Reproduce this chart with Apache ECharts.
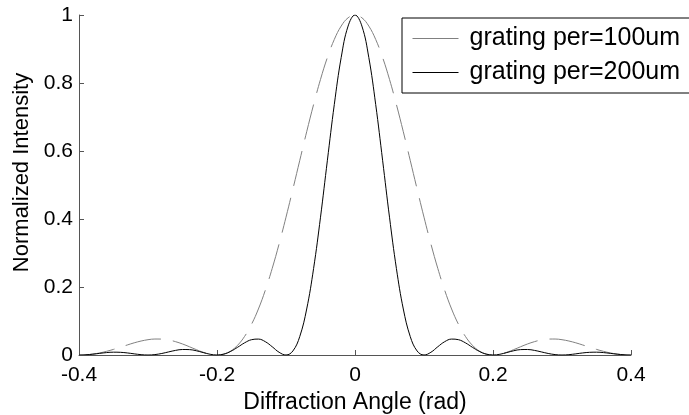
<!DOCTYPE html>
<html>
<head>
<meta charset="utf-8">
<script src="https://cdn.jsdelivr.net/npm/echarts@6/dist/echarts.min.js"></script>
<style>
html,body{margin:0;padding:0;background:#fff;}
#chart{width:689px;height:415px;}
</style>
</head>
<body>
<div id="chart"></div>
<script>
const angle = [-0.40,-0.39,-0.38,-0.37,-0.36,-0.35,-0.34,-0.33,-0.32,-0.31,
  -0.30,-0.29,-0.28,-0.27,-0.26,-0.25,-0.24,-0.23,-0.22,-0.21,
  -0.20,-0.19,-0.18,-0.17,-0.16,-0.15,-0.14,-0.13,-0.12,-0.11,
  -0.10,-0.09,-0.08,-0.07,-0.06,-0.05,-0.04,-0.03,-0.02,-0.01,
  0,
  0.01,0.02,0.03,0.04,0.05,0.06,0.07,0.08,0.09,0.10,
  0.11,0.12,0.13,0.14,0.15,0.16,0.17,0.18,0.19,0.20,
  0.21,0.22,0.23,0.24,0.25,0.26,0.27,0.28,0.29,0.30,
  0.31,0.32,0.33,0.34,0.35,0.36,0.37,0.38,0.39,0.40];

const intensity100 = [0,0.0007,0.0027,0.0061,0.0108,0.0165,0.0229,0.0295,0.0358,0.0411,
  0.0450,0.0470,0.0468,0.0441,0.0392,0.0324,0.0243,0.0158,0.0080,0.0022,
  0,0.0027,0.0119,0.0289,0.0547,0.0901,0.1353,0.1904,0.2546,0.3267,
  0.4053,0.4881,0.5728,0.6567,0.7368,0.8106,0.8751,0.9281,0.9675,0.9918,
  1,
  0.9918,0.9675,0.9281,0.8751,0.8106,0.7368,0.6567,0.5728,0.4881,0.4053,
  0.3267,0.2546,0.1904,0.1353,0.0901,0.0547,0.0289,0.0119,0.0027,0,
  0.0022,0.0080,0.0158,0.0243,0.0324,0.0392,0.0441,0.0468,0.0470,0.0450,
  0.0411,0.0358,0.0295,0.0229,0.0165,0.0108,0.0061,0.0027,0.0007,0];

const intensity200 = [0,0.0006,0.0024,0.0048,0.0071,0.0083,0.0079,0.0061,0.0034,0.0010,
  0,0.0012,0.0045,0.0091,0.0136,0.0162,0.0159,0.0125,0.0072,0.0022,
  0,0.0027,0.0108,0.0229,0.0358,0.0450,0.0468,0.0392,0.0243,0.0080,
  0,0.0119,0.0547,0.1353,0.2546,0.4053,0.5728,0.7368,0.8751,0.9675,
  1,
  0.9675,0.8751,0.7368,0.5728,0.4053,0.2546,0.1353,0.0547,0.0119,0,
  0.0080,0.0243,0.0392,0.0468,0.0450,0.0358,0.0229,0.0108,0.0027,0,
  0.0022,0.0072,0.0125,0.0159,0.0162,0.0136,0.0091,0.0045,0.0012,0,
  0.0010,0.0034,0.0061,0.0079,0.0083,0.0071,0.0048,0.0024,0.0006,0];

const seriesNames = ['grating per=100um', 'grating per=200um'];
const xTitle = 'Diffraction Angle (rad)';
const yTitle = 'Normalized Intensity';

const FONT = '"Liberation Sans", Arial, Helvetica, sans-serif';
const chart = echarts.init(document.getElementById('chart'), null, {renderer: 'canvas'});

function pairs(ys) { return angle.map((x, i) => [x, ys[i]]); }

chart.setOption({
  animation: false,
  backgroundColor: '#ffffff',
  grid: {left: 79, right: 58, top: 15, bottom: 60, containLabel: false, outerBoundsMode: 'none'},
  xAxis: {
    type: 'value', min: -0.4, max: 0.4, interval: 0.2,
    name: xTitle, nameLocation: 'middle', nameGap: 33,
    nameTextStyle: {fontFamily: FONT, fontSize: 23, color: '#000'},
    axisLine: {show: true, onZero: false, lineStyle: {color: '#555', width: 1}},
    axisTick: {show: true, inside: true, length: 5, lineStyle: {color: '#555'}},
    axisLabel: {fontFamily: FONT, fontSize: 21, color: '#000', margin: 10},
    splitLine: {show: false}
  },
  yAxis: {
    type: 'value', min: 0, max: 1, interval: 0.2,
    name: yTitle, nameLocation: 'middle', nameGap: 45,
    nameTextStyle: {fontFamily: FONT, fontSize: 22, color: '#000', padding: [0, 0, 0, 25]},
    axisLine: {show: true, onZero: false, lineStyle: {color: '#555', width: 1}},
    axisTick: {show: true, inside: true, length: 5, lineStyle: {color: '#555'}},
    axisLabel: {fontFamily: FONT, fontSize: 21, color: '#000', margin: 6},
    splitLine: {show: false}
  },
  legend: {
    orient: 'vertical', left: 402, top: 18,
    backgroundColor: '#fff', borderColor: '#000', borderWidth: 1, borderRadius: 0,
    padding: [8, 30, 8, 10],
    itemWidth: 46, itemHeight: 20, itemGap: 9,
    itemStyle: {opacity: 0},
    textStyle: {fontFamily: FONT, fontSize: 25, color: '#000', lineHeight: 24, padding: [0, 0, 0, 6]},
    data: [
      {name: seriesNames[0], lineStyle: {type: 'solid', color: '#808080', width: 1}},
      {name: seriesNames[1], lineStyle: {type: 'solid', color: '#000', width: 1}}
    ]
  },
  series: [
    {
      name: seriesNames[0], type: 'line', data: pairs(intensity100),
      smooth: 0.4, symbol: 'none', z: 2,
      lineStyle: {color: '#808080', width: 1, type: [36, 12]},
      itemStyle: {color: '#808080'}
    },
    {
      name: seriesNames[1], type: 'line', data: pairs(intensity200),
      smooth: 0.4, symbol: 'none', z: 3,
      lineStyle: {color: '#000', width: 1, type: 'solid'},
      itemStyle: {color: '#000'}
    }
  ]
});
</script>
</body>
</html>
